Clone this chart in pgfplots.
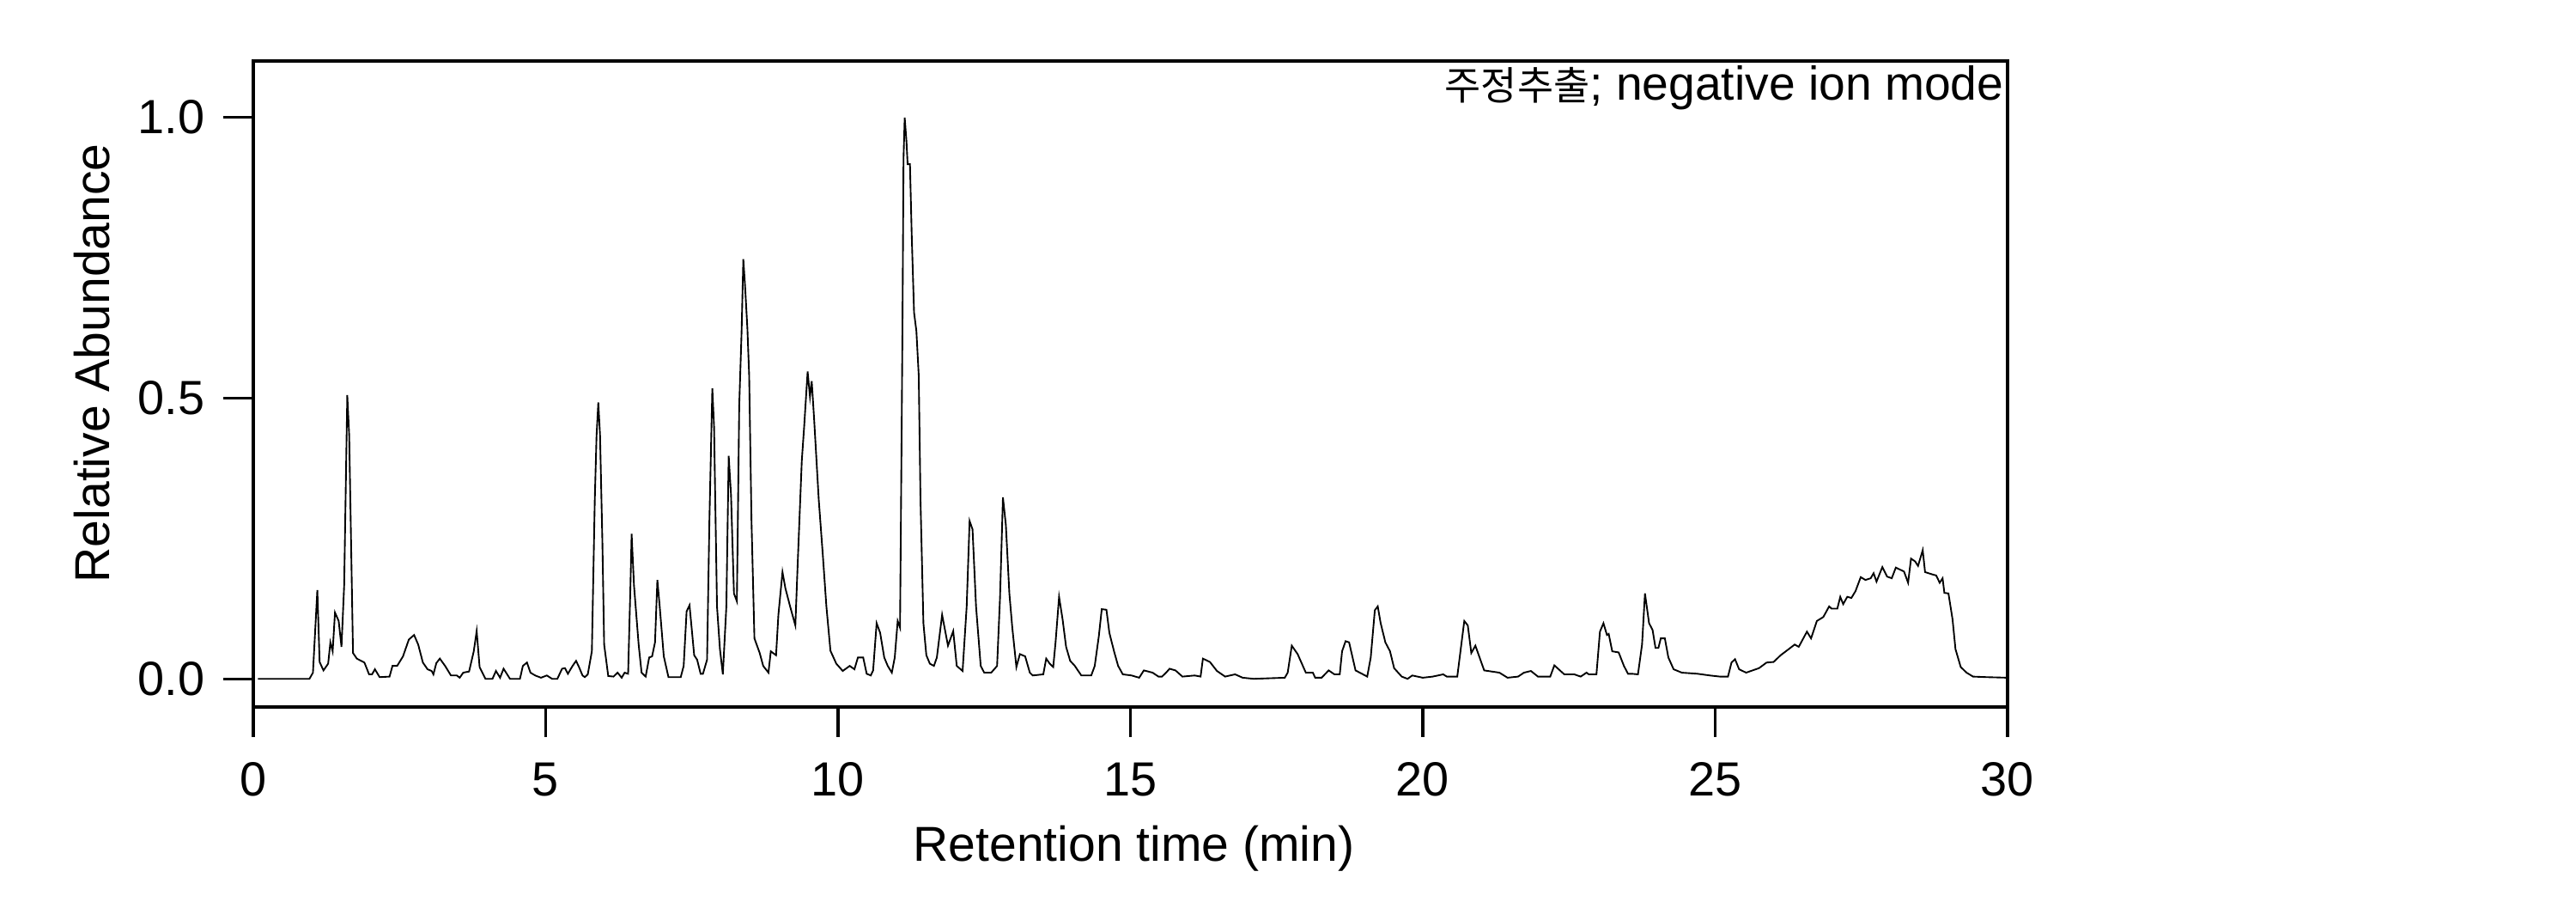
\documentclass[border=0pt]{standalone}
\usepackage{fontspec}
\setmainfont{Liberation Sans}
\newfontfamily\kr{Noto Sans CJK KR}
\usepackage{graphicx}
\usepackage{pgfplots}
\pgfplotsset{compat=1.18}
\usepackage{pgfplotstable}
\usetikzlibrary{calc}
\pgfplotstableread{
t y
0.08 0
0.96 0
1.02 0.011
1.095 0.158
1.134 0.030
1.20 0.015
1.28 0.027
1.318 0.065
1.357 0.049
1.397 0.118
1.46 0.103
1.508 0.057
1.554 0.167
1.607 0.505
1.64 0.433
1.672 0.243
1.705 0.046
1.77 0.036
1.90 0.029
1.98 0.008
2.03 0.008
2.08 0.017
2.16 0.003
2.33 0.004
2.38 0.023
2.46 0.023
2.56 0.040
2.66 0.070
2.75 0.078
2.82 0.061
2.90 0.029
2.98 0.017
3.05 0.014
3.08 0.008
3.13 0.028
3.19 0.036
3.28 0.023
3.38 0.006
3.48 0.006
3.53 0.002
3.59 0.011
3.69 0.013
3.77 0.049
3.82 0.085
3.87 0.021
3.97 0
4.09 0
4.15 0.014
4.22 0.002
4.28 0.018
4.39 0
4.56 0
4.61 0.023
4.68 0.029
4.74 0.011
4.82 0.006
4.92 0.002
5.02 0.006
5.11 0
5.20 0
5.28 0.018
5.33 0.019
5.38 0.009
5.46 0.023
5.52 0.032
5.57 0.021
5.63 0.006
5.67 0.003
5.72 0.008
5.79 0.049
5.84 0.319
5.87 0.433
5.90 0.492
5.93 0.433
5.97 0.243
6.00 0.061
6.07 0.005
6.16 0.004
6.23 0.011
6.30 0.002
6.35 0.011
6.41 0.009
6.45 0.167
6.47 0.258
6.51 0.167
6.59 0.061
6.64 0.011
6.71 0.004
6.77 0.038
6.82 0.040
6.87 0.065
6.91 0.176
6.95 0.129
7.02 0.040
7.10 0.003
7.31 0.003
7.36 0.023
7.41 0.120
7.46 0.131
7.54 0.042
7.59 0.034
7.65 0.009
7.69 0.009
7.76 0.034
7.80 0.281
7.85 0.517
7.88 0.448
7.90 0.319
7.93 0.129
7.98 0.053
8.03 0.008
8.09 0.129
8.13 0.397
8.17 0.327
8.22 0.152
8.27 0.138
8.31 0.486
8.35 0.616
8.38 0.747
8.41 0.699
8.45 0.623
8.48 0.540
8.52 0.281
8.57 0.072
8.66 0.046
8.72 0.023
8.81 0.011
8.85 0.049
8.94 0.042
8.98 0.114
9.05 0.190
9.10 0.161
9.18 0.129
9.27 0.095
9.31 0.205
9.38 0.388
9.42 0.448
9.48 0.547
9.52 0.502
9.55 0.530
9.59 0.464
9.67 0.319
9.74 0.220
9.80 0.130
9.87 0.050
9.97 0.027
10.08 0.014
10.20 0.023
10.28 0.017
10.34 0.038
10.43 0.038
10.49 0.009
10.56 0.006
10.60 0.015
10.66 0.099
10.72 0.082
10.79 0.038
10.85 0.023
10.92 0.011
10.97 0.038
11.02 0.103
11.06 0.091
11.08 0.342
11.10 0.600
11.12 0.927
11.14 0.999
11.17 0.957
11.19 0.916
11.23 0.916
11.26 0.790
11.30 0.652
11.34 0.619
11.38 0.540
11.41 0.319
11.46 0.099
11.51 0.042
11.57 0.027
11.64 0.023
11.69 0.038
11.78 0.114
11.88 0.059
11.97 0.085
12.03 0.023
12.13 0.014
12.20 0.129
12.25 0.281
12.30 0.266
12.36 0.129
12.44 0.023
12.50 0.011
12.62 0.011
12.72 0.023
12.77 0.144
12.82 0.323
12.87 0.274
12.93 0.152
12.98 0.091
13.05 0.021
13.11 0.044
13.20 0.040
13.28 0.011
13.33 0.006
13.51 0.008
13.56 0.036
13.62 0.027
13.68 0.021
13.72 0.065
13.78 0.146
13.84 0.106
13.90 0.057
13.97 0.032
14.05 0.023
14.16 0.006
14.33 0.006
14.39 0.023
14.46 0.076
14.51 0.124
14.59 0.123
14.64 0.082
14.72 0.049
14.79 0.023
14.87 0.008
15.02 0.006
15.15 0.002
15.23 0.015
15.38 0.011
15.48 0.004
15.54 0.004
15.61 0.011
15.67 0.018
15.77 0.015
15.89 0.004
16.10 0.006
16.20 0.004
16.24 0.036
16.36 0.030
16.48 0.014
16.62 0.004
16.79 0.008
16.92 0.002
17.11 0
17.64 0.002
17.69 0.011
17.76 0.059
17.86 0.044
18.00 0.011
18.12 0.011
18.16 0.002
18.27 0.002
18.39 0.015
18.49 0.008
18.58 0.008
18.62 0.049
18.68 0.067
18.74 0.065
18.85 0.015
19.05 0.004
19.11 0.038
19.18 0.122
19.23 0.129
19.28 0.099
19.36 0.065
19.44 0.049
19.51 0.019
19.64 0.004
19.74 0
19.82 0.006
20.00 0.002
20.17 0.004
20.35 0.008
20.41 0.004
20.59 0.004
20.71 0.103
20.77 0.095
20.83 0.046
20.90 0.059
21.05 0.015
21.31 0.011
21.45 0.002
21.63 0.004
21.73 0.011
21.85 0.014
21.97 0.004
22.18 0.004
22.25 0.024
22.42 0.008
22.59 0.008
22.70 0.004
22.80 0.011
22.84 0.008
22.97 0.008
23.03 0.084
23.09 0.099
23.15 0.078
23.18 0.080
23.24 0.049
23.35 0.047
23.44 0.023
23.51 0.009
23.58 0.009
23.68 0.008
23.75 0.061
23.80 0.152
23.87 0.099
23.93 0.087
23.98 0.055
24.03 0.055
24.07 0.072
24.14 0.072
24.20 0.038
24.29 0.017
24.43 0.011
24.70 0.009
24.91 0.006
25.08 0.004
25.22 0.004
25.28 0.029
25.34 0.035
25.41 0.017
25.53 0.011
25.75 0.019
25.88 0.029
26.00 0.030
26.12 0.042
26.26 0.053
26.36 0.061
26.43 0.057
26.57 0.084
26.64 0.072
26.74 0.103
26.85 0.110
26.95 0.129
26.99 0.125
27.09 0.125
27.14 0.146
27.19 0.133
27.26 0.146
27.33 0.144
27.40 0.156
27.49 0.181
27.57 0.176
27.66 0.179
27.71 0.188
27.76 0.173
27.86 0.199
27.94 0.182
28.02 0.179
28.09 0.198
28.17 0.194
28.23 0.191
28.30 0.171
28.35 0.214
28.42 0.209
28.47 0.201
28.55 0.229
28.59 0.190
28.71 0.186
28.78 0.184
28.84 0.171
28.89 0.179
28.92 0.153
28.99 0.152
29.06 0.106
29.11 0.053
29.20 0.021
29.30 0.011
29.41 0.004
29.65 0.003
30.00 0.002
}\chrom
\begin{document}
\begin{tikzpicture}
\path[use as bounding box] (0,0) rectangle (720bp,252bp);
\begin{axis}[
  name=ax,
  at={(70.8bp,54.5bp)}, anchor=south west,
  scale only axis, width=490.3bp, height=180.5bp,
  xmin=0, xmax=30, ymin=-0.05, ymax=1.1,
  xtick={0,5,...,30}, ytick={0,0.5,1},
  minor tick num=0,
  tick align=outside, xtick pos=bottom, ytick pos=left,
  major tick length=8.4bp,
  axis line style={line width=0.82bp, black},
  every tick/.style={black, line width=0.82bp},
  /pgf/number format/assume math mode=true,
  tick label style={font=\fontsize{13.4bp}{16bp}\selectfont},
  xticklabel style={yshift=-3.7bp},
  yticklabel style={xshift=-1.7bp, /pgf/number format/fixed, /pgf/number format/fixed zerofill, /pgf/number format/precision=1},
  scaled y ticks=false,
]
\addplot[black, line width=0.45bp] table[x=t, y=y] {\chrom};
\end{axis}
\node[anchor=base east, inner sep=0pt, font=\fontsize{13.25bp}{15bp}\selectfont]
  at ([xshift=-0.9bp, yshift=-11bp]ax.north east) {{\kr\fontsize{11bp}{13bp}\selectfont 주정추출}; negative ion mode};
\node[anchor=base, inner sep=0pt, font=\fontsize{13.7bp}{16bp}\selectfont]
  at ([yshift=-43.2bp]$(ax.south west)!0.502!(ax.south east)$) {Retention time (min)};
\node[anchor=base, rotate=90, inner sep=0pt, font=\fontsize{13.7bp}{16bp}\selectfont]
  at ([xshift=-40.3bp]$(ax.south west)!0.532!(ax.north west)$) {Relative Abundance};
\end{tikzpicture}
\end{document}
